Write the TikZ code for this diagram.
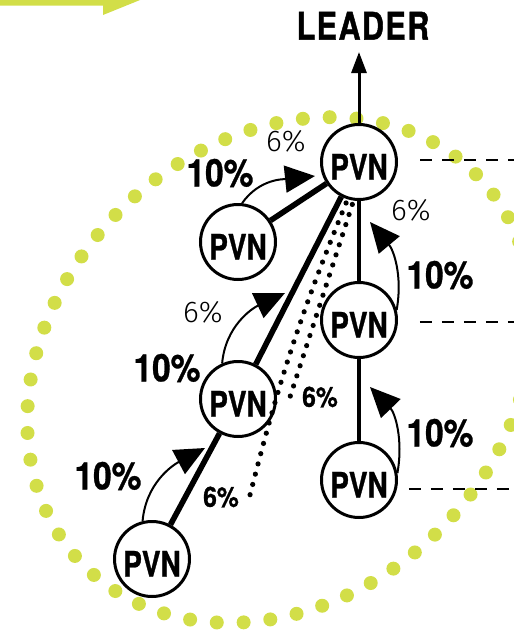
\documentclass[tikz,border=0pt]{standalone}
\usepackage{fontspec}
\setmainfont{TeX Gyre Heros}
\newfontfamily\narrowfont{TeX Gyre Heros}[FakeStretch=0.80, BoldFeatures={FakeBold=0.8}]
\newfontfamily\figfont{TeX Gyre Heros}[FakeStretch=0.88, BoldFeatures={FakeBold=0.8}]
\newfontfamily\capsfont{TeX Gyre Heros}[FakeStretch=0.80, LetterSpace=4, BoldFeatures={FakeBold=1.2}]
\newfontfamily\thinfont{Fira Sans Light}
\usepackage{tikz}
\usetikzlibrary{arrows.meta, positioning, calc}
\definecolor{swarm}{RGB}{210,222,72}

\begin{document}
\begin{tikzpicture}[
    x=0.5pt, y=0.5pt,
    pvn/.style={circle, draw=black, line width=1.5pt, fill=white, minimum size=37.5pt, inner sep=0pt, text height=17.5pt, text depth=0pt, font=\narrowfont\bfseries\fontsize{17.5}{18}\selectfont},
    bond/.style={line width=#1},
    bond/.default=2.8pt,
    rise/.style={-{Triangle[length=15pt, width=13.5pt]}, line width=1pt},
    rate/.style={inner sep=0pt, font=\figfont\bfseries\fontsize{19}{20}\selectfont},
    share/.style={inner sep=0pt, font=\thinfont\fontsize{15}{16}\selectfont},
    slice/.style={inner sep=0pt, font=\figfont\bfseries\fontsize{14}{15}\selectfont},
    trail/.style={line width=2.6pt, line cap=round, dash pattern=on 0pt off 5.3pt},
    guide/.style={line width=1pt, dash pattern=on 6pt off 5pt}
]
\clip (0,0) rectangle (514,-633);

% swarm boundary and banner arrow
\draw[swarm, line width=7pt, line cap=round, dash pattern=on 0pt off 13.426pt] (280,-370) ellipse [x radius=277, y radius=226, rotate=45];
\fill[swarm] (0,10) -- (0,-5.7) -- (103,-5.7) -- (103,-15) -- (145,2) -- (145,10) -- cycle;

% nodes
\node[pvn] (head) at (359,-162) {PVN};
\node[pvn] (twig) at (238,-242) {PVN};
\node[pvn] (midleft) at (238,-399) {PVN};
\node[pvn] (foot) at (152,-559) {PVN};
\node[pvn] (midright) at (359,-320) {PVN};
\node[pvn] (lowright) at (359,-480) {PVN};
\node[inner sep=0pt, anchor=south, font=\capsfont\bfseries\fontsize{19}{20}\selectfont] (leader) at (363,-40) {LEADER};

% links
\draw[-{Triangle[length=10.5pt, width=7.5pt]}, line width=1.5pt, shorten >=6pt] (head.north) -- (head.north |- leader.south);
\draw[bond] (twig) -- (head);
\draw[bond] (midleft) -- (head);
\draw[bond] (foot) -- (midleft);
\draw[bond=2.2pt] (head) -- (midright);
\draw[bond=2.2pt] (midright) -- (lowright);

% dashed levels
\coordinate (rim) at (530,0);
\coordinate (g1) at ([shift={(11.2pt,1pt)}]head.east);
\coordinate (g2) at ([shift={(10.9pt,-1pt)}]midright.east);
\coordinate (g3) at ([shift={(5.4pt,-4.5pt)}]lowright.east);
\draw[guide] (g1) -- (g1 -| rim);
\draw[guide] (g2) -- (g2 -| rim);
\draw[guide] (g3) -- (g3 -| rim);

% growth arrows
\coordinate (t1) at (315,-176);
\coordinate (t2) at (370,-222);
\coordinate (t3) at (285,-293);
\coordinate (t4) at (205,-448);
\coordinate (t5) at (370,-387);
\draw[rise] (twig.84) to[out=55, in=186] (t1);
\draw[rise] (midright.15) to[out=80, in=310] (t2);
\draw[rise] (midleft.114) to[out=85, in=205] (t3);
\draw[rise] (foot.104) to[out=85, in=208] (t4);
\draw[rise] (lowright.10) to[out=80, in=314] (t5);

% dotted shares
\coordinate (da) at (290,-397);
\coordinate (db) at (250,-495);
\draw[trail, shorten <=2pt] (head.262) -- (da);
\draw[trail, shorten <=2pt] (head.253) to[bend right=4] (db);

% labels
\node[rate] (r1) at (220,-173) {10\%};
\node[share] (s1) at (286,-141) {6\%};
\node[rate] (r2) at (440,-275) {10\%};
\node[share] (s2) at (411,-210) {6\%};
\node[rate] (r3) at (167,-368) {10\%};
\node[share] (s3) at (203,-312) {6\%};
\node[rate] (r4) at (108,-476) {10\%};
\node[rate] (r5) at (440,-433) {10\%};
\node[slice] (q1) at (320,-397) {6\%};
\node[slice] (q2) at (221,-497) {6\%};
\end{tikzpicture}
\end{document}
